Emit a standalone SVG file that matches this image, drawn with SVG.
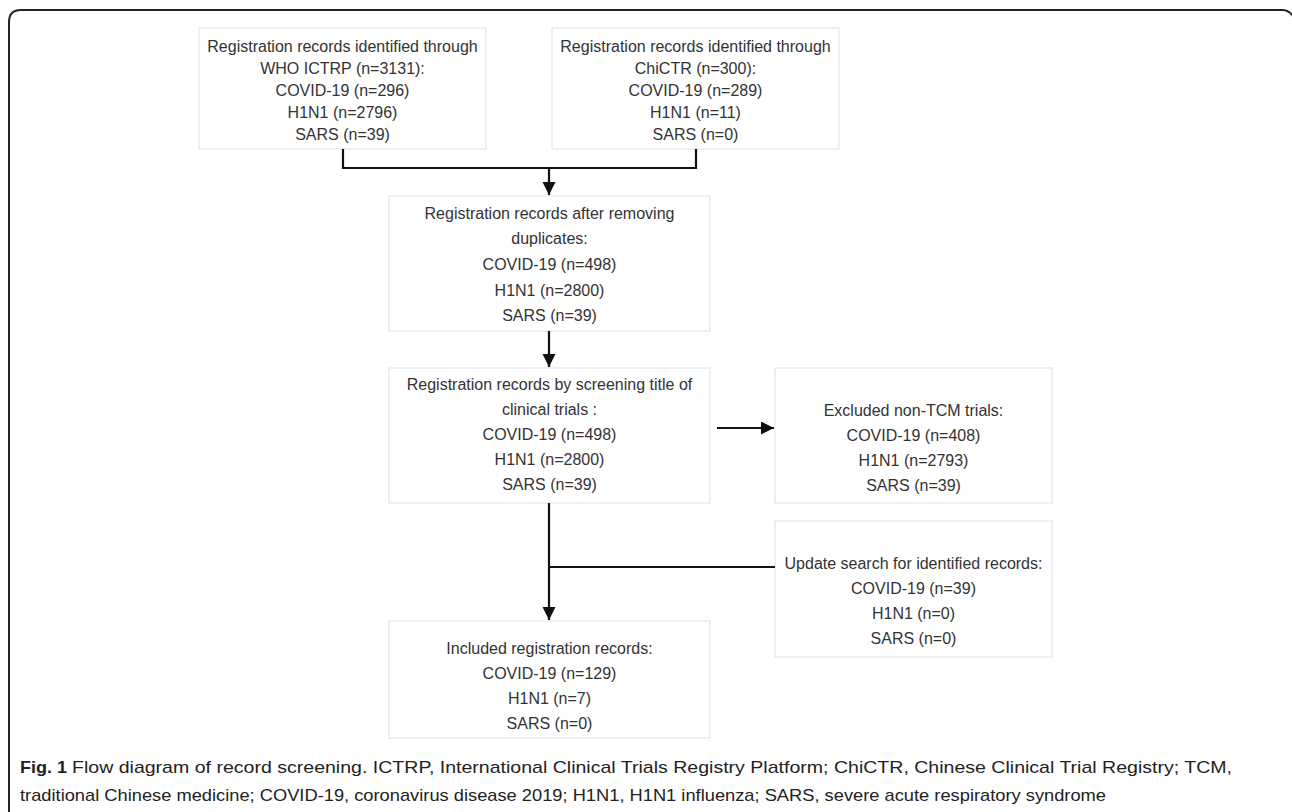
<svg xmlns="http://www.w3.org/2000/svg" width="1292" height="812" viewBox="0 0 1292 812">
<defs>
<style>
.box{fill:#fff;stroke:#dfe4ee;stroke-width:1.2}
.t{font-family:"Liberation Sans",Arial,sans-serif;font-size:16px;fill:#333;text-anchor:middle}
.c{stroke:#111;stroke-width:2.2;fill:none}
.cap{font-family:"Liberation Sans",Arial,sans-serif;font-size:17px;fill:#222}
</style>
<marker id="ah" markerWidth="14" markerHeight="14" refX="13" refY="6.5" orient="auto" markerUnits="userSpaceOnUse">
<path d="M0,0 L13,6.5 L0,13 Z" fill="#111"/>
</marker>
</defs>
<rect width="1292" height="812" fill="#fff"/>
<path d="M9,812 L9,22 Q9,10 21,10 L1282,10 Q1290,10 1294,18" fill="none" stroke="#222" stroke-width="2"/>

<g id="n1">
<rect class="box" x="199" y="28" width="287" height="121"/>
<text class="t" x="342.5" y="52">Registration records identified through</text>
<text class="t" x="342.5" y="74">WHO ICTRP (n=3131):</text>
<text class="t" x="342.5" y="96">COVID-19 (n=296)</text>
<text class="t" x="342.5" y="118">H1N1 (n=2796)</text>
<text class="t" x="342.5" y="140">SARS (n=39)</text>
</g>
<g id="n2">
<rect class="box" x="552" y="28" width="287" height="121"/>
<text class="t" x="695.5" y="52">Registration records identified through</text>
<text class="t" x="695.5" y="74">ChiCTR  (n=300):</text>
<text class="t" x="695.5" y="96">COVID-19 (n=289)</text>
<text class="t" x="695.5" y="118">H1N1 (n=11)</text>
<text class="t" x="695.5" y="140">SARS (n=0)</text>
</g>
<g id="n3">
<rect class="box" x="389" y="196" width="321" height="135"/>
<text class="t" x="549.5" y="219">Registration records after removing</text>
<text class="t" x="549.5" y="244">duplicates:</text>
<text class="t" x="549.5" y="270">COVID-19 (n=498)</text>
<text class="t" x="549.5" y="296">H1N1 (n=2800)</text>
<text class="t" x="549.5" y="321">SARS (n=39)</text>
</g>
<g id="n4">
<rect class="box" x="389" y="368" width="321" height="135"/>
<text class="t" x="549.5" y="390">Registration records by screening title of</text>
<text class="t" x="549.5" y="415">clinical trials :</text>
<text class="t" x="549.5" y="440">COVID-19 (n=498)</text>
<text class="t" x="549.5" y="465">H1N1 (n=2800)</text>
<text class="t" x="549.5" y="490">SARS (n=39)</text>
</g>
<g id="n5">
<rect class="box" x="775" y="368" width="277" height="135"/>
<text class="t" x="913.5" y="416">Excluded non-TCM trials:</text>
<text class="t" x="913.5" y="441">COVID-19 (n=408)</text>
<text class="t" x="913.5" y="466">H1N1 (n=2793)</text>
<text class="t" x="913.5" y="491">SARS (n=39)</text>
</g>
<g id="n6">
<rect class="box" x="775" y="521" width="277" height="136"/>
<text class="t" x="913.5" y="569">Update search for identified records:</text>
<text class="t" x="913.5" y="594">COVID-19 (n=39)</text>
<text class="t" x="913.5" y="619">H1N1 (n=0)</text>
<text class="t" x="913.5" y="644">SARS (n=0)</text>
</g>
<g id="n7">
<rect class="box" x="389" y="621" width="321" height="117"/>
<text class="t" x="549.5" y="654">Included registration records:</text>
<text class="t" x="549.5" y="679">COVID-19 (n=129)</text>
<text class="t" x="549.5" y="704">H1N1 (n=7)</text>
<text class="t" x="549.5" y="729">SARS (n=0)</text>
</g>

<g id="connectors">
<path class="c" d="M343,149 V168 H696 V149"/>
<path class="c" d="M549,168 V195" marker-end="url(#ah)"/>
<path class="c" d="M549,331 V367" marker-end="url(#ah)"/>
<path class="c" d="M717,428 H774" marker-end="url(#ah)"/>
<path class="c" d="M549,503 V620" marker-end="url(#ah)"/>
<path class="c" d="M549,567 H775"/>
</g>

<g id="caption">
<text class="cap" x="20" y="773" font-weight="bold" textLength="47" lengthAdjust="spacingAndGlyphs">Fig. 1</text>
<text class="cap" x="72" y="773" textLength="1160" lengthAdjust="spacingAndGlyphs">Flow diagram of record screening. ICTRP, International Clinical Trials Registry Platform; ChiCTR, Chinese Clinical Trial Registry; TCM,</text>
<text class="cap" x="20" y="801" textLength="1086" lengthAdjust="spacingAndGlyphs">traditional Chinese medicine; COVID-19, coronavirus disease 2019; H1N1, H1N1 influenza; SARS, severe acute respiratory syndrome</text>
</g>
</svg>
